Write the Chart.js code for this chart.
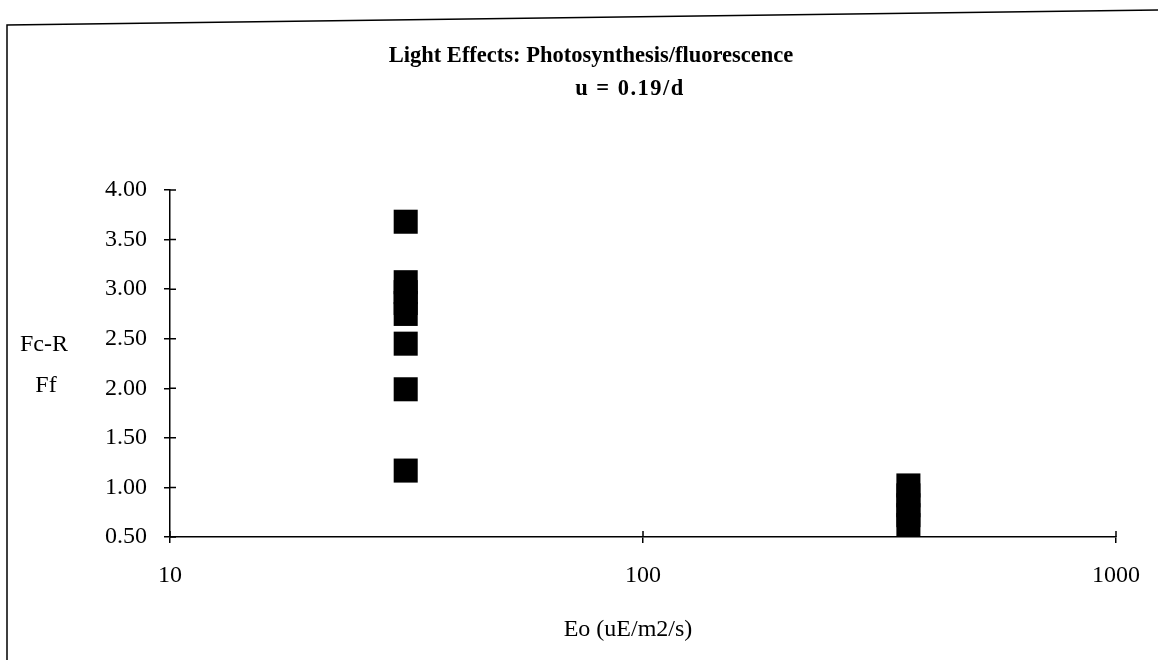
<!DOCTYPE html>
<html>
<head>
<meta charset="utf-8">
<script src="https://cdn.jsdelivr.net/npm/chart.js@4"></script>
<style>
  html, body { margin: 0; padding: 0; background: #fff; }
  #wrap { width: 1158px; height: 660px; position: relative; }
</style>
</head>
<body>
<div id="wrap"><canvas id="myChart" width="1158" height="660"></canvas></div>
<script>
// light level (uE/m2/s) and Fc-R / Ff ratio
var lowLight = [31.5, 31.5, 31.5, 31.5, 31.5, 31.5, 31.5, 31.5];
var lowRatio = [3.68, 3.07, 2.97, 2.86, 2.75, 2.45, 1.99, 1.17];
var highLight = [364, 364, 364, 364, 364];
var highRatio = [1.02, 0.92, 0.82, 0.72, 0.62];

var xTickValues = [10, 100, 1000];
var yMin = 0.5, yMax = 4.0, yStep = 0.5;

var serif = "'Liberation Serif', 'Times New Roman', serif";

function toPoints(xs, ys) {
  return xs.map(function (x, i) { return { x: x, y: ys[i] }; });
}

// text labels, frame and inward half of the tick crosses
var decor = {
  id: "decor",
  afterDraw: function (chart) {
    var c = chart.ctx, a = chart.chartArea;
    var xs = chart.scales.x, ys = chart.scales.y;
    c.save();
    c.strokeStyle = "#000";
    c.lineWidth = 1.5;
    c.beginPath();
    ys.ticks.forEach(function (t) {
      var py = ys.getPixelForValue(t.value);
      c.moveTo(a.left, py); c.lineTo(a.left + 6, py);
    });
    xs.ticks.forEach(function (t) {
      var px = xs.getPixelForValue(t.value);
      c.moveTo(px, a.bottom); c.lineTo(px, a.bottom - 6);
    });
    c.stroke();

    // outer frame of the scanned figure
    c.beginPath();
    c.moveTo(7, 662); c.lineTo(7, 25); c.lineTo(1160, 10);
    c.stroke();

    c.fillStyle = "#000";
    c.textAlign = "center";
    c.textBaseline = "middle";
    c.font = "bold 22.5px " + serif;
    c.fillText("Light Effects: Photosynthesis/fluorescence", 591, 56);
    if ("letterSpacing" in c) c.letterSpacing = "1.5px";
    c.fillText("u = 0.19/d", 630, 89);
    if ("letterSpacing" in c) c.letterSpacing = "0px";
    c.font = "24px " + serif;
    c.fillText("Fc-R", 44, 345);
    c.fillText("Ff", 46, 386);
    c.fillText("Eo (uE/m2/s)", 628, 630);
    c.restore();
  }
};

var ctx = document.getElementById("myChart").getContext("2d");

var myChart = new Chart(ctx, {
  type: "scatter",
  data: {
    datasets: [
      {
        label: "low light",
        data: toPoints(lowLight, lowRatio),
        pointStyle: "rect",
        pointRadius: 17,
        pointHoverRadius: 17,
        backgroundColor: "#000",
        borderWidth: 0,
        clip: 0,
      },
      {
        label: "high light",
        data: toPoints(highLight, highRatio),
        pointStyle: "rect",
        pointRadius: 17,
        pointHoverRadius: 17,
        backgroundColor: "#000",
        borderWidth: 0,
        clip: 0,
      },
    ],
  },
  options: {
    responsive: false,
    animation: false,
    events: [],
    layout: { padding: { top: 190, right: 37, left: 0, bottom: 0 } },
    plugins: {
      legend: { display: false },
      tooltip: { enabled: false },
    },
    scales: {
      x: {
        type: "logarithmic",
        min: 10,
        max: 1000,
        afterBuildTicks: function (scale) {
          scale.ticks = xTickValues.map(function (v) { return { value: v }; });
        },
        afterFit: function (scale) { scale.height = 123; },
        border: { display: true, color: "#000", width: 1.5 },
        grid: { display: true, drawOnChartArea: false, color: "#000", lineWidth: 1.5, tickLength: 6 },
        ticks: {
          color: "#000",
          font: { family: serif, size: 24 },
          padding: 18,
          maxRotation: 0,
          autoSkip: false,
          callback: function (value) { return String(value); },
        },
      },
      y: {
        min: yMin,
        max: yMax,
        afterFit: function (scale) { scale.width = 170; },
        border: { display: true, color: "#000", width: 1.5 },
        grid: { display: true, drawOnChartArea: false, color: "#000", lineWidth: 1.5, tickLength: 6 },
        ticks: {
          stepSize: yStep,
          color: "#000",
          font: { family: serif, size: 24 },
          padding: 17,
          callback: function (value) { return value.toFixed(2); },
        },
      },
    },
  },
  plugins: [decor],
});
</script>
</body>
</html>
